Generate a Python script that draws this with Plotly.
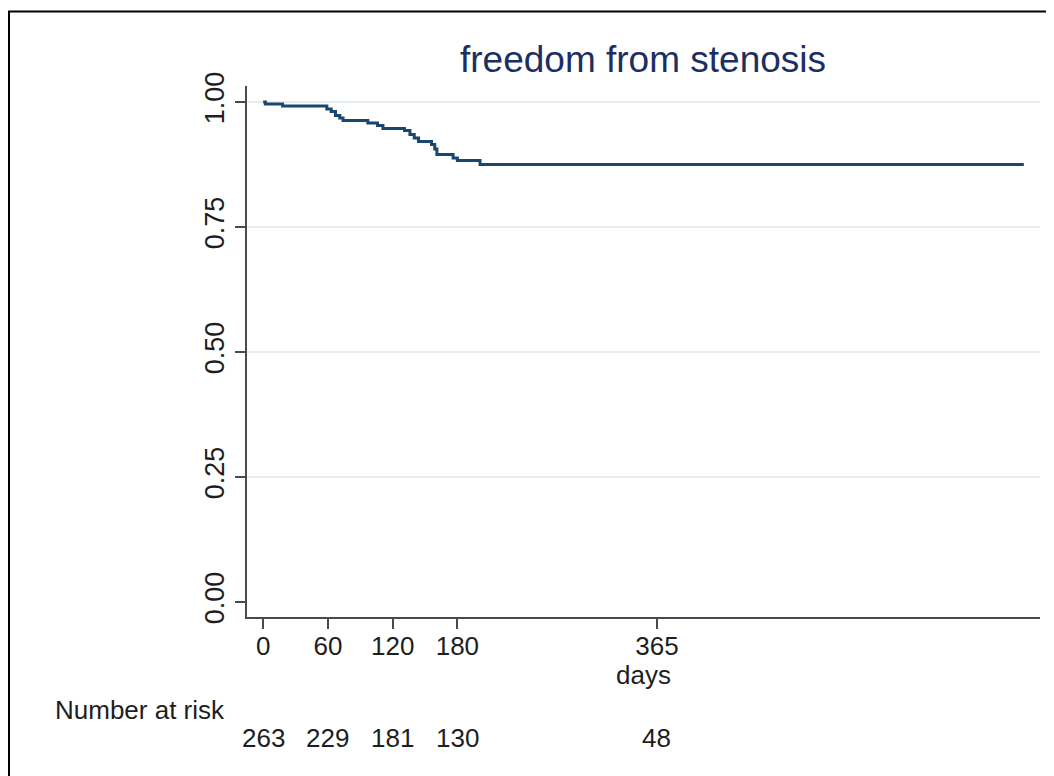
import plotly.graph_objects as go

# Kaplan-Meier estimate: freedom from stenosis (step function)
days = [0, 2, 18, 59, 63, 67, 71, 74, 97, 106, 111, 131, 136, 140, 144,
        156, 159, 161, 176, 180, 201, 705]
survival = [1.000, 0.996, 0.992, 0.986, 0.981, 0.973, 0.968, 0.963, 0.958,
            0.953, 0.947, 0.943, 0.935, 0.928, 0.921, 0.915, 0.906, 0.895,
            0.888, 0.883, 0.875, 0.875]

x_ticks = [0, 60, 120, 180, 365]
y_ticks = [0.0, 0.25, 0.5, 0.75, 1.0]
y_tick_labels = ["0.00", "0.25", "0.50", "0.75", "1.00"]
risk_times = [0, 60, 120, 180, 365]
number_at_risk = [263, 229, 181, 130, 48]

# the page body has an 8px margin; figure fills the rest of the window
OFF = 8
W, H = 1054 - OFF, 776 - OFF
L, R, T, B = 247 - OFF, 14, 86 - OFF, 159
plot_w = W - L - R
plot_h = H - T - B

def px_x(p):  # page pixel -> paper x
    return (p - OFF - L) / plot_w

def px_y(p):  # page pixel -> paper y
    return (H - B - (p - OFF)) / plot_h

FONT = "Liberation Sans, Arial, Helvetica, sans-serif"
NAVY = "#1a476f"
TXT = "#1e1e1e"
AXIS = "#4a4a4a"

fig = go.Figure()
fig.add_trace(go.Scatter(
    x=days, y=survival, mode="lines", line=dict(shape="hv", color=NAVY, width=3),
    showlegend=False, hoverinfo="skip"))

annotations = [
    dict(text="freedom from stenosis", xref="paper", yref="paper",
         x=px_x(643), y=px_y(60), xanchor="center", yanchor="middle",
         showarrow=False, font=dict(family=FONT, size=37, color="#1b2f62")),
    dict(text="days", xref="paper", yref="paper",
         x=px_x(643), y=px_y(675), xanchor="center", yanchor="middle",
         showarrow=False, font=dict(family=FONT, size=26, color=TXT)),
    dict(text="Number at risk", xref="paper", yref="paper",
         x=px_x(227), y=px_y(710), xanchor="right", yanchor="middle",
         showarrow=False, font=dict(family=FONT, size=26, color=TXT)),
]
for t, n in zip(risk_times, number_at_risk):
    annotations.append(dict(text=str(n), xref="x", yref="paper", x=t, y=px_y(738),
                            xanchor="center", yanchor="middle", showarrow=False,
                            font=dict(family=FONT, size=26, color=TXT)))

fig.update_layout(
    width=W, height=H,
    margin=dict(l=L, r=R, t=T, b=B, pad=0),
    paper_bgcolor="white", plot_bgcolor="white",
    annotations=annotations,
    shapes=[dict(type="rect", xref="paper", yref="paper",
                 x0=px_x(OFF + 1), x1=px_x(1054 + 30), y0=px_y(776 + 30), y1=px_y(11.5),
                 line=dict(color="black", width=2), fillcolor="rgba(0,0,0,0)",
                 layer="above")],
    xaxis=dict(range=[-15, 720], tickmode="array", tickvals=x_ticks,
               ticktext=[str(v) for v in x_ticks], ticks="outside", ticklen=10,
               tickwidth=1.5, tickcolor=AXIS, showline=True, linecolor=AXIS,
               linewidth=2, showgrid=False, zeroline=False, ticklabelstandoff=-5,
               tickfont=dict(family=FONT, size=26, color=TXT)),
    yaxis=dict(range=[-0.03, 1.032], tickmode="array", tickvals=y_ticks,
               ticktext=y_tick_labels, tickangle=-90, ticks="outside", ticklen=10,
               tickwidth=1.5, tickcolor=AXIS, showline=True, linecolor=AXIS,
               linewidth=2, showgrid=True, gridcolor="#e4eef0", gridwidth=1.5,
               zeroline=True, zerolinecolor="white", zerolinewidth=2,
               tickfont=dict(family=FONT, size=27, color=TXT)),
)

fig.write_html("out.html")
